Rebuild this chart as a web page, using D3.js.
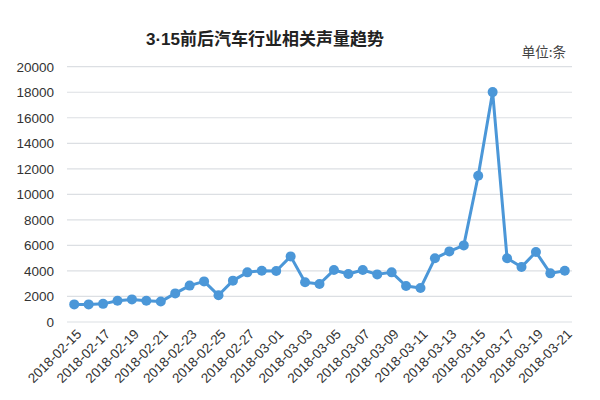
<!DOCTYPE html>
<html><head><meta charset="utf-8">
<script src="https://cdn.jsdelivr.net/npm/d3@7"></script>
<style>body{margin:0;background:#fff;}svg{display:block;font-family:"Noto Sans CJK SC","Noto Sans",sans-serif;}</style>
</head><body>
<svg id="c" width="600" height="400"></svg>
<script>
const dates = ["2018-02-15","2018-02-16","2018-02-17","2018-02-18","2018-02-19","2018-02-20","2018-02-21","2018-02-22","2018-02-23","2018-02-24","2018-02-25","2018-02-26","2018-02-27","2018-02-28","2018-03-01","2018-03-02","2018-03-03","2018-03-04","2018-03-05","2018-03-06","2018-03-07","2018-03-08","2018-03-09","2018-03-10","2018-03-11","2018-03-12","2018-03-13","2018-03-14","2018-03-15","2018-03-16","2018-03-17","2018-03-18","2018-03-19","2018-03-20","2018-03-21"];
const values = [1380,1380,1420,1670,1770,1670,1600,2240,2850,3180,2090,3240,3890,4020,4000,5140,3110,2980,4070,3760,4070,3730,3890,2820,2660,4990,5530,6000,11460,18010,4990,4310,5480,3810,4020];
const yTicks = [0,2000,4000,6000,8000,10000,12000,14000,16000,18000,20000];
const titleNum = "3·15";
const titleText = "前后汽车行业相关声量趋势";
const unit = "单位:条";

const svg = d3.select("#c");
const m = {l:67, r:28, t:66.7, b:78};
const W = 600, H = 400;
const x = d3.scaleBand().domain(dates).range([m.l, W - m.r]);
const y = d3.scaleLinear().domain([0,20000]).range([H - m.b, m.t]);

// gridlines
svg.append("g").selectAll("line").data(yTicks).join("line")
  .attr("x1", m.l).attr("x2", W - m.r)
  .attr("y1", d => y(d)).attr("y2", d => y(d))
  .attr("stroke", "#dcdfe3").attr("stroke-width", 1.2);

// y axis labels
const ya = svg.append("g").attr("transform", `translate(${m.l - 13},0)`)
  .call(d3.axisLeft(y).tickValues(yTicks).tickFormat(d3.format("d")).tickSize(0).tickPadding(0));
ya.select(".domain").remove();
ya.selectAll("text").attr("font-size", 13.5).attr("fill", "#333").attr("font-family", "Liberation Sans, Arial, sans-serif");

// x axis labels
const xTickVals = dates.filter((d,i) => i % 2 === 0);
const xa = svg.append("g").attr("transform", `translate(0,${H - m.b})`)
  .call(d3.axisBottom(x).tickValues(xTickVals).tickSize(0).tickPadding(0));
xa.select(".domain").remove();
xa.selectAll("text")
  .attr("font-size", 13.5).attr("fill", "#333").attr("font-family", "Liberation Sans, Arial, sans-serif")
  .attr("text-anchor", "end").attr("dy", 0).attr("y", 0)
  .attr("transform", "translate(8,13) rotate(-45)");

// line
const cx = d => x(d) + x.bandwidth()/2;
svg.append("path").datum(values.map((v,i)=>[dates[i],v]))
  .attr("fill","none").attr("stroke","#4b97d8").attr("stroke-width",3).attr("stroke-linejoin","round")
  .attr("d", d3.line().x(d=>cx(d[0])).y(d=>y(d[1])));
svg.append("g").selectAll("circle").data(values.map((v,i)=>[dates[i],v])).join("circle")
  .attr("cx", d=>cx(d[0])).attr("cy", d=>y(d[1])).attr("r", 5).attr("fill","#4b97d8");

// title
const t = svg.append("text").attr("x", 265).attr("y", 45).attr("text-anchor","middle")
  .attr("font-size", 17).attr("font-weight","bold").attr("fill","#222");
t.append("tspan").attr("font-family","Liberation Sans, Arial, sans-serif").attr("font-size",17).text(titleNum);
t.append("tspan").text(titleText);
svg.append("text").attr("x", 566).attr("y", 57).attr("text-anchor","end")
  .attr("font-size", 13.5).attr("fill","#444").text(unit);
</script>
</body></html>
